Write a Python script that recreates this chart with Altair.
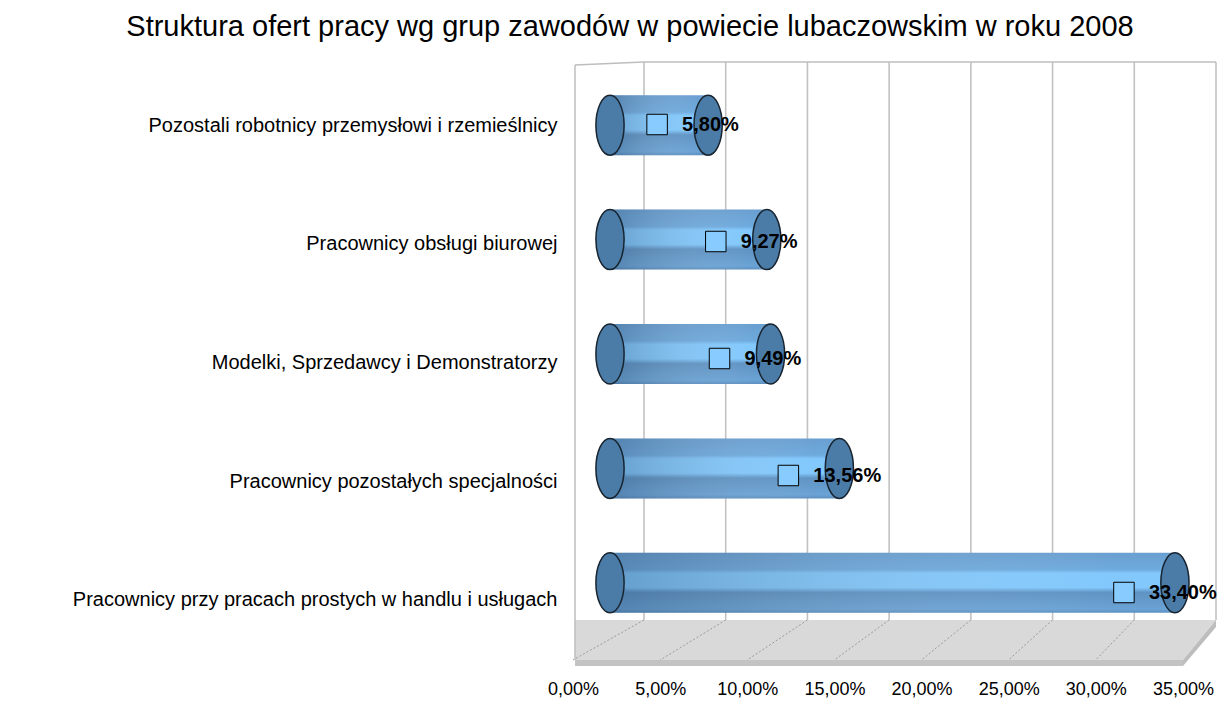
import altair as alt
import pandas as pd

# ---------------- data ----------------
categories = [
    "Pozostali robotnicy przemysłowi i rzemieślnicy",
    "Pracownicy obsługi biurowej",
    "Modelki, Sprzedawcy i Demonstratorzy",
    "Pracownicy pozostałych specjalności",
    "Pracownicy przy pracach prostych w handlu i usługach",
]
shares = [5.80, 9.27, 9.49, 13.56, 33.40]
tick_values = [0, 5, 10, 15, 20, 25, 30, 35]
title_text = "Struktura ofert pracy wg grup zawodów w powiecie lubaczowskim w roku 2008"

value_labels = [f"{v:.2f}".replace(".", ",") + "%" for v in shares]

df = pd.DataFrame({"cat": categories, "share": shares, "label": value_labels,
                   "start": [0.0] * len(shares)})
ticks_df = pd.DataFrame({"tick": tick_values})
one = pd.DataFrame({"k": [0]})

FONT = "Liberation Sans"
W, H = 640, 603

# ---------------- scales (three depth planes of the 3-D look) ----------------
x_bar = alt.Scale(domain=[0, 35], range=[34, 626], zero=False, nice=False)
x_back = alt.Scale(domain=[0, 35], range=[68, 640], zero=False, nice=False)
x_front = alt.Scale(domain=[0, 35], range=[-3, 607], zero=False, nice=False)
y_lab = alt.Scale(domain=categories, range=[4, 597], paddingInner=0, paddingOuter=0)
y_bar = alt.Scale(domain=categories, range=[6, 578], paddingInner=0, paddingOuter=0)
y_sq = alt.Scale(domain=categories, range=[4, 589], paddingInner=0, paddingOuter=0)

# ---------------- floor & walls (chart chrome) ----------------
floor_top = "M0,0 L641,0 L608,40 L0,40 Z"
floor_front = "M0,40 L608,40 L608,46 L0,46 Z"
floor_side = "M608,40 L641,0 L641,7 L608,46 Z"
floor_lines = " ".join(
    f"M{69 + 81.7 * k:.1f},0 L{-2 + 87.1 * k:.1f},40" for k in range(7)
)

def floor_piece(path, **kw):
    return alt.Chart(one).mark_point(shape=path, size=4, opacity=1, **kw).encode(
        x=alt.value(-1), y=alt.value(558)
    )

floor = alt.layer(
    floor_piece(floor_top, filled=True, color="#d9d9d9", strokeWidth=0),
    floor_piece(floor_front, filled=True, color="#c3c3c3", strokeWidth=0),
    floor_piece(floor_side, filled=True, color="#bdbdbd", strokeWidth=0),
    floor_piece(floor_lines, filled=False, color="#9a9a9a", strokeWidth=1,
                strokeDash=[2, 2]),
)

wall_color = "#bebebe"
walls = alt.layer(
    alt.Chart(one).mark_rule(color=wall_color, strokeWidth=1.5).encode(
        x=alt.value(-1), y=alt.value(3), y2=alt.value(598)),
    alt.Chart(one).mark_rule(color=wall_color, strokeWidth=1.5).encode(
        x=alt.value(-1), x2=alt.value(68), y=alt.value(3), y2=alt.value(0)),
    alt.Chart(one).mark_rule(color=wall_color, strokeWidth=1.5).encode(
        x=alt.value(68), x2=alt.value(640), y=alt.value(0)),
)

grid = alt.Chart(ticks_df).mark_rule(color="#c2c2c2", strokeWidth=1.6).encode(
    x=alt.X("tick:Q", scale=x_back, axis=None),
    y=alt.value(0), y2=alt.value(558),
)

# ---------------- cylinders ----------------
grad_v = alt.LinearGradient(
    gradient="linear", x1=0, y1=0, x2=0, y2=1,
    stops=[
        alt.GradientStop(color="#6a9fd0", offset=0.0),
        alt.GradientStop(color="#6eaadd", offset=0.28),
        alt.GradientStop(color="#82c8fc", offset=0.34),
        alt.GradientStop(color="#82c8fc", offset=0.58),
        alt.GradientStop(color="#5f93c3", offset=0.66),
        alt.GradientStop(color="#6aa3d5", offset=0.94),
        alt.GradientStop(color="#5d8fbf", offset=1.0),
    ],
)
grad_h = alt.LinearGradient(
    gradient="linear", x1=0, y1=0, x2=1, y2=0,
    stops=[
        alt.GradientStop(color="rgba(30,60,95,0.30)", offset=0.0),
        alt.GradientStop(color="rgba(255,255,255,0.0)", offset=0.9),
    ],
)

ellipse = ("M0,-1 C0.26,-1 0.47,-0.552 0.47,0 C0.47,0.552 0.26,1 0,1 "
           "C-0.26,1 -0.47,0.552 -0.47,0 C-0.47,-0.552 -0.26,-1 0,-1 Z")

ybar = alt.Y("cat:N", scale=y_bar, axis=None, sort=None)
body = alt.Chart(df).mark_bar(size=60, color=grad_v).encode(
    x=alt.X("share:Q", scale=x_bar, axis=None), x2="start:Q", y=ybar)
shade = alt.Chart(df).mark_bar(size=60, color=grad_h).encode(
    x=alt.X("share:Q", scale=x_bar, axis=None), x2="start:Q", y=ybar)
cap_kw = dict(shape=ellipse, size=3600, filled=True, color="#4b7ca8",
              stroke="#18242f", strokeWidth=1.5, opacity=1)
lcap = alt.Chart(df).mark_point(**cap_kw).encode(
    x=alt.X("start:Q", scale=x_bar, axis=None), y=ybar)
rcap = alt.Chart(df).mark_point(**cap_kw).encode(
    x=alt.X("share:Q", scale=x_bar, axis=None), y=ybar)
bars = alt.layer(body, shade, lcap, rcap)

# ---------------- data labels with legend keys ----------------
ysq = alt.Y("cat:N", scale=y_sq, axis=None, sort=None)
squares = alt.Chart(df).mark_square(
    size=420, filled=True, color="#88ccff", stroke="#000000", strokeWidth=1,
    opacity=1, xOffset=-51,
).encode(x=alt.X("share:Q", scale=x_bar, axis=None), y=ysq)
texts = alt.Chart(df).mark_text(
    align="left", baseline="middle", dx=-26, fontSize=20, fontWeight="bold",
    font=FONT, color="#000000",
).encode(x=alt.X("share:Q", scale=x_bar, axis=None), y=ysq, text="label:N")
labels = alt.layer(squares, texts)

# ---------------- axes ----------------
xaxis = alt.Chart(ticks_df).mark_point(opacity=0).encode(
    x=alt.X("tick:Q", scale=x_front, axis=alt.Axis(
        values=tick_values, orient="bottom",
        labelExpr="replace(format(datum.value, '.2f'), '.', ',') + '%'",
        domain=False, ticks=False, grid=False, labelPadding=15,
        labelFontSize=18, labelFont=FONT, labelColor="#000000",
        labelFlush=False, labelOverlap=False, title=None)))

yaxis = alt.Chart(df).mark_point(opacity=0).encode(
    y=alt.Y("cat:N", scale=y_lab, sort=None, axis=alt.Axis(
        orient="left", domain=False, ticks=False, grid=False, labelPadding=19,
        labelFontSize=20, labelFont=FONT, labelColor="#000000",
        labelLimit=700, title=None)))

chart = alt.layer(floor, grid, walls, bars, labels, xaxis, yaxis).resolve_scale(
    x="independent", y="independent"
).properties(
    width=W, height=H,
    title=alt.TitleParams(title_text, fontSize=29, font=FONT, fontWeight="normal",
                          color="#000000", anchor="middle", frame="group",
                          dx=-266, offset=19),
    padding={"left": 568, "top": 54, "right": 3, "bottom": 37},
    autosize=alt.AutoSizeParams(type="none"),
    background="white",
).configure_view(stroke=None)

chart.save("out.html", embed_options={"renderer": "svg", "actions": False})
